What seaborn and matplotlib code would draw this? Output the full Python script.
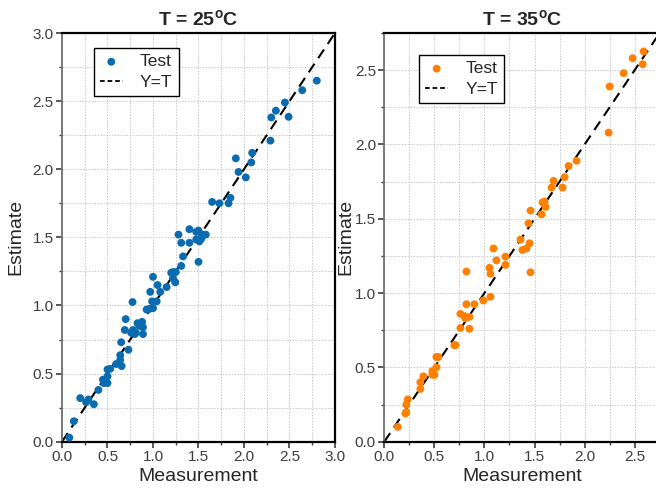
import matplotlib
matplotlib.use("Agg")
import matplotlib.pyplot as plt
import seaborn as sns
import pandas as pd
from matplotlib.ticker import MultipleLocator

# ---- data ----
meas_25 = [2.80, 2.64, 2.45, 2.49, 2.35, 2.30, 2.29, 2.09, 2.08, 1.91, 1.94, 2.02, 1.85, 1.83, 1.73, 1.65,
           1.28, 1.31, 1.40, 1.40, 1.475, 1.50, 1.475, 1.51, 1.55, 1.58, 1.53,
           1.33, 1.31, 1.50, 1.20, 1.22, 1.25, 1.245, 1.22, 1.15, 1.05, 1.08, 1.00, 0.97, 0.99, 1.04, 1.00,
           0.93, 0.96, 0.775, 0.70, 0.69, 0.88, 0.83, 0.85, 0.89, 0.78, 0.76, 0.81, 0.89, 0.80, 0.65, 0.73,
           0.64, 0.64, 0.595, 0.655, 0.53, 0.50, 0.50, 0.45, 0.47, 0.46, 0.50, 0.40, 0.35, 0.29, 0.265, 0.20,
           0.13, 0.08]
est_25 = [2.65, 2.58, 2.49, 2.385, 2.43, 2.38, 2.21, 2.12, 2.05, 2.08, 1.98, 1.94, 1.79, 1.75, 1.75, 1.76,
          1.52, 1.46, 1.56, 1.46, 1.54, 1.55, 1.485, 1.47, 1.52, 1.52, 1.49,
          1.36, 1.29, 1.32, 1.24, 1.245, 1.245, 1.17, 1.20, 1.135, 1.15, 1.10, 1.21, 1.10, 1.03, 1.03, 0.98,
          0.97, 0.975, 1.025, 0.90, 0.82, 0.88, 0.87, 0.85, 0.84, 0.82, 0.80, 0.80, 0.79, 0.79, 0.73, 0.675,
          0.635, 0.60, 0.57, 0.555, 0.535, 0.53, 0.48, 0.455, 0.455, 0.43, 0.43, 0.38, 0.275, 0.31, 0.29, 0.32,
          0.15, 0.03]

meas_35 = [2.59, 2.48, 2.58, 2.39, 2.25, 2.24, 1.92, 1.84, 1.80, 1.78, 1.69, 1.67, 1.58, 1.60, 1.61, 1.57,
           1.46, 1.44, 1.36, 1.45, 1.38, 1.42, 1.09, 1.46, 1.21, 1.12, 1.21, 1.05, 1.06, 0.82, 1.06, 0.99,
           0.90, 0.82, 0.76, 0.80, 0.85, 0.81, 0.76, 0.85, 0.70, 0.71, 0.54, 0.52, 0.52, 0.48, 0.50, 0.48,
           0.39, 0.36, 0.36, 0.235, 0.22, 0.22, 0.21, 0.134]
est_35 = [2.626, 2.58, 2.54, 2.48, 2.39, 2.08, 1.89, 1.855, 1.78, 1.71, 1.755, 1.71, 1.61, 1.615, 1.58, 1.53,
          1.555, 1.47, 1.36, 1.335, 1.29, 1.30, 1.30, 1.14, 1.245, 1.22, 1.19, 1.17, 1.13, 1.145, 0.975, 0.95,
          0.925, 0.925, 0.86, 0.845, 0.84, 0.83, 0.765, 0.76, 0.65, 0.65, 0.57, 0.57, 0.50, 0.475, 0.45, 0.45,
          0.44, 0.40, 0.355, 0.285, 0.25, 0.20, 0.19, 0.10]

ref_25 = [0.0, 3.0]
ref_35 = [0.0, 2.75]

titles = ["T = 25$^{\\mathbf{o}}$C", "T = 35$^{\\mathbf{o}}$C"]
x_label = "Measurement"
y_label = "Estimate"
series_label = "Test"
ref_label = "Y=T"

sns.set_style("white")
plt.rcParams["font.family"] = ["Liberation Sans", "DejaVu Sans"]
plt.rcParams["mathtext.fontset"] = "custom"
plt.rcParams["mathtext.rm"] = "Liberation Sans"
plt.rcParams["mathtext.bf"] = "Liberation Sans:bold"

fig = plt.figure(figsize=(6.56, 4.91), dpi=100)
W, H = 656, 491
ax1 = fig.add_axes([62 / W, 49.3 / H, 273 / W, 408.7 / H])
ax2 = fig.add_axes([384.3 / W, 49.3 / H, 275.4 / W, 408.7 / H])

configs = [
    (ax1, meas_25, est_25, ref_25, "#0b6bb0", titles[0], 3.0, -0.139),
    (ax2, meas_35, est_35, ref_35, "#ff8000", titles[1], 2.75, -0.108),
]

tick_col = "#3c3c3c"
for ax, mx, ey, ref, col, title, lim, ylab_x in configs:
    df = pd.DataFrame({"m": mx, "e": ey})
    rdf = pd.DataFrame({"x": ref, "y": ref})
    sns.scatterplot(data=df, x="m", y="e", ax=ax, color=col, s=32, edgecolor="none",
                    label=series_label, zorder=3)
    sns.lineplot(data=rdf, x="x", y="y", ax=ax, color="black", lw=1.5,
                 linestyle=(0, (5, 3.2)), label=ref_label, zorder=2)
    ax.set_xlim(0, lim)
    ax.set_ylim(0, lim)
    ax.xaxis.set_major_locator(MultipleLocator(0.5))
    ax.yaxis.set_major_locator(MultipleLocator(0.5))
    ax.xaxis.set_minor_locator(MultipleLocator(0.25))
    ax.yaxis.set_minor_locator(MultipleLocator(0.25))
    ax.xaxis.set_major_formatter(matplotlib.ticker.FormatStrFormatter("%.1f"))
    ax.yaxis.set_major_formatter(matplotlib.ticker.FormatStrFormatter("%.1f"))
    ax.grid(True, which="both", color="#c8c8c8", lw=0.7, linestyle=(0, (1.5, 1.5)))
    ax.set_axisbelow(True)
    ax.tick_params(which="major", direction="out", length=4, width=1.2, color=tick_col,
                   labelsize=11, labelcolor=tick_col, pad=2, left=True, bottom=True)
    ax.tick_params(which="minor", direction="out", length=2, width=1.0, color=tick_col,
                   left=True, bottom=True)
    for side in ["top", "right", "bottom"]:
        ax.spines[side].set_color("black")
        ax.spines[side].set_linewidth(1.6)
        ax.spines[side].set_visible(True)
    ax.spines["left"].set_color("#707070")
    ax.spines["left"].set_linewidth(1.3)
    ax.spines["left"].set_visible(True)
    ax.set_xlabel(x_label, fontsize=14, labelpad=3)
    ax.set_ylabel(y_label, fontsize=14)
    ax.yaxis.set_label_coords(ylab_x, 0.5)
    ax.set_title(title, fontsize=14, fontweight="bold", pad=5)

leg_kw = dict(loc="upper left", fontsize=12.5, frameon=True, fancybox=False, edgecolor="black",
              framealpha=1, handlelength=1.3, handletextpad=1.0, borderpad=0.35,
              labelspacing=0.3, borderaxespad=0)
ax1.legend(bbox_to_anchor=(0.117, 0.963), **leg_kw)
ax2.legend(bbox_to_anchor=(35 / 275.4, (408.7 - 22) / 408.7), **leg_kw)
for ax in (ax1, ax2):
    leg = ax.get_legend()
    leg.get_frame().set_linewidth(1.0)
    for ln in leg.get_lines():
        ln.set_linestyle((0, (2.6, 1.6)))
        ln.set_linewidth(1.3)

fig.savefig("out.png", dpi=100)
